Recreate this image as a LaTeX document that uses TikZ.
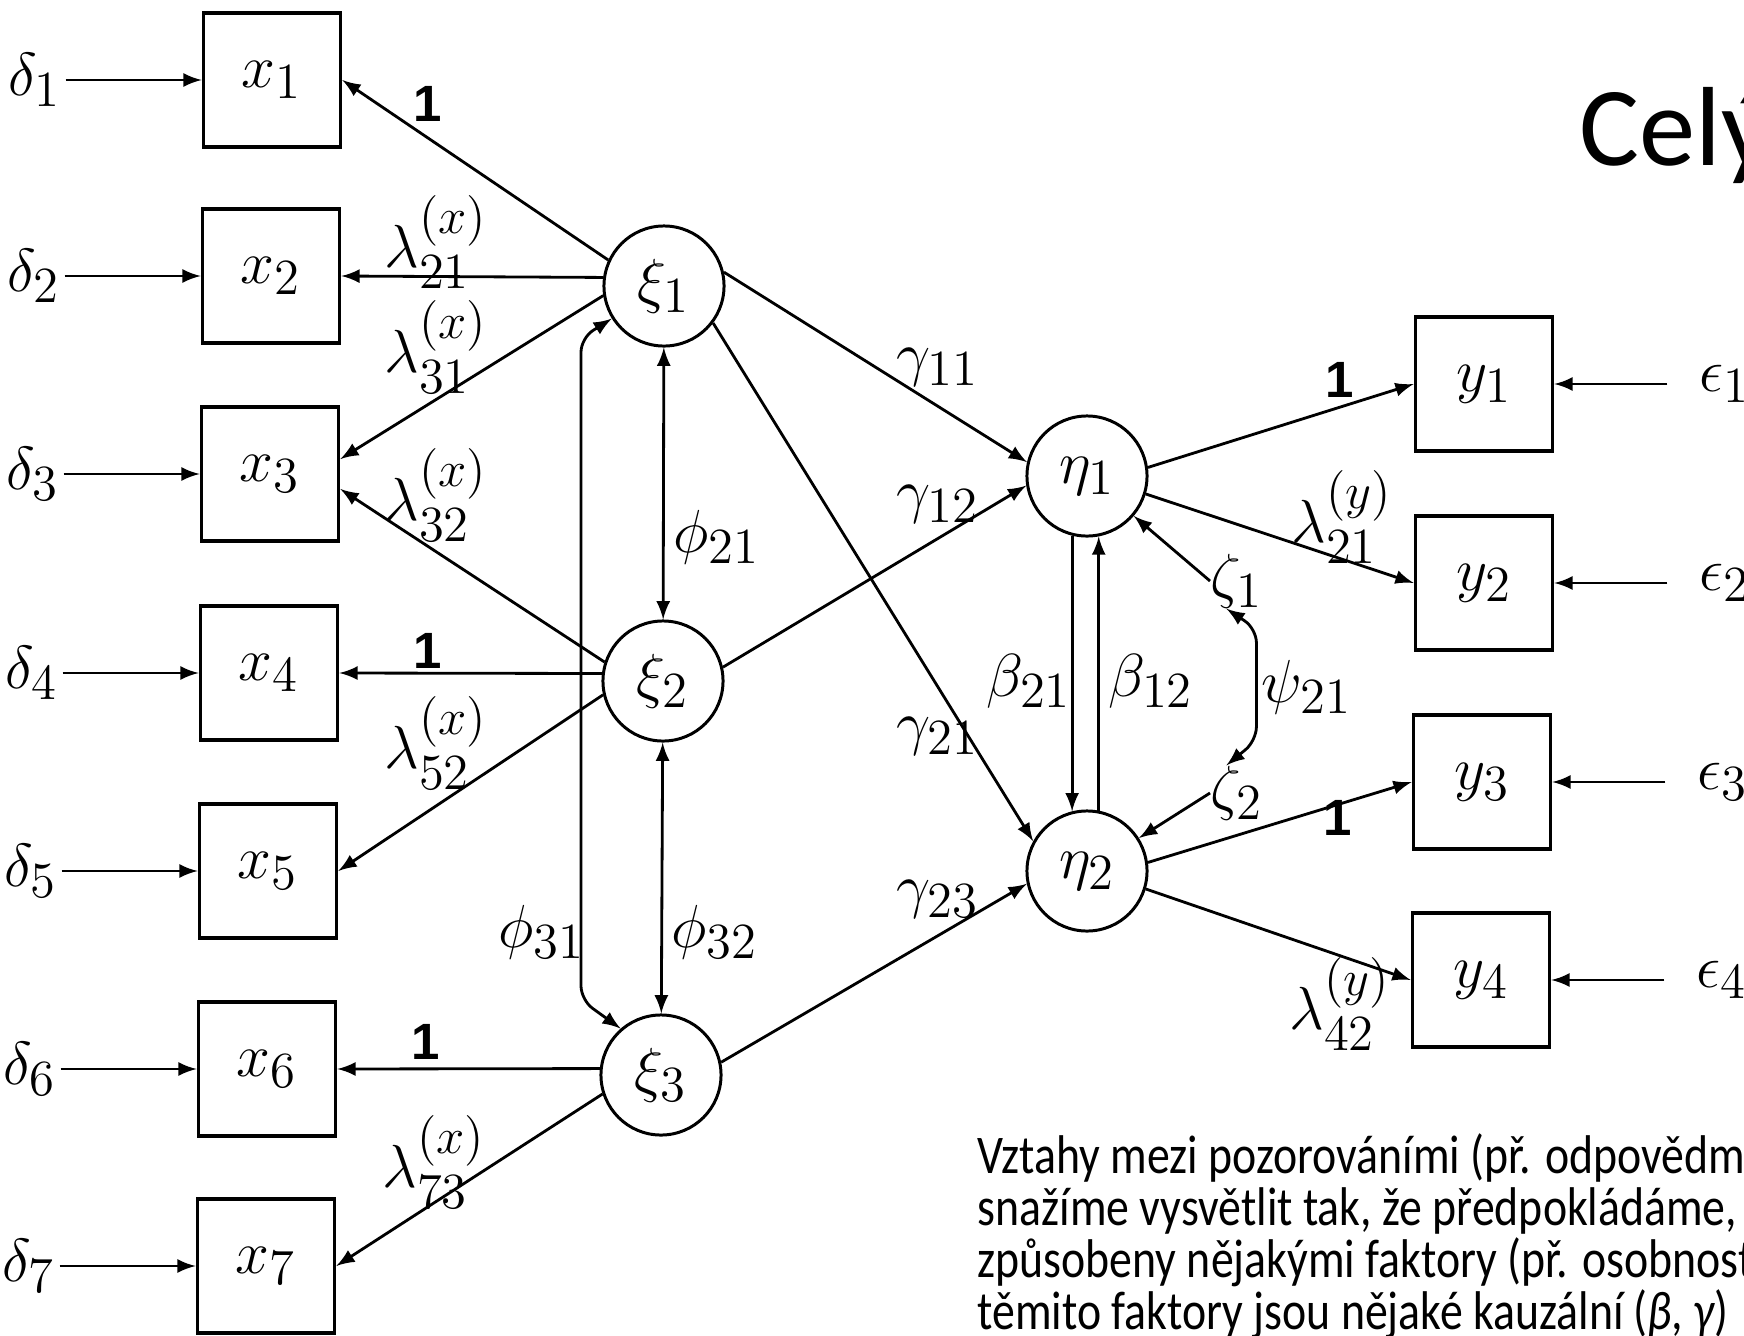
\documentclass[tikz,border=0pt]{standalone}
\usepackage{fontspec}
\usepackage{amsmath}
\usepackage{graphicx}
\usepackage{tikz}
\usetikzlibrary{arrows}
\usetikzlibrary{positioning}
\DeclareMathSizes{17.28}{17.28}{14}{10}
\newfontfamily\slidefont{Carlito}
\newfontfamily\onefont{Liberation Sans}
\newcommand{\slideline}[1]{\scalebox{0.84}[1]{#1}}
\tikzset{%
  myedge/.style={->, >=latex, line width=0.8pt},
  dbledge/.style={<->, >=latex, line width=0.8pt},
  obsbox/.style={rectangle, draw=black, line width=1pt, minimum width=1.37cm, minimum height=1.34cm, font=\LARGE},
  latent/.style={circle, draw=black, line width=0.85pt, minimum size=1.2cm, inner sep=0pt, font=\LARGE},
  errlbl/.style={inner sep=1pt, font=\LARGE},
  errlblr/.style={inner ysep=1pt, inner xsep=9pt, font=\LARGE},
  coef/.style={inner sep=0pt, font=\LARGE},
  unit/.style={inner sep=0pt, font=\onefont\bfseries\fontsize{14.5}{16}\selectfont},
  slidetext/.style={inner sep=0pt, anchor=base west, font=\slidefont\fontsize{15.5}{18}\selectfont}
}
\begin{document}
\begin{tikzpicture}[x=0.01cm, y=-0.01cm]
  \useasboundingbox (0,0) rectangle (1744,1336);
  \node[obsbox] (x1) at (272,80) {$x_1$};
  \node[obsbox] (x2) at (271,276) {$x_2$};
  \node[obsbox] (x3) at (270,474) {$x_3$};
  \node[obsbox] (x4) at (269,673) {$x_4$};
  \node[obsbox] (x5) at (268,871) {$x_5$};
  \node[obsbox] (x6) at (267,1069) {$x_6$};
  \node[obsbox] (x7) at (266,1266) {$x_7$};
  \node[errlbl, left=1.36cm of x1] (d1) {$\delta_1$};
  \node[errlbl, left=1.36cm of x2] (d2) {$\delta_2$};
  \node[errlbl, left=1.36cm of x3] (d3) {$\delta_3$};
  \node[errlbl, left=1.36cm of x4] (d4) {$\delta_4$};
  \node[errlbl, left=1.36cm of x5] (d5) {$\delta_5$};
  \node[errlbl, left=1.36cm of x6] (d6) {$\delta_6$};
  \node[errlbl, left=1.36cm of x7] (d7) {$\delta_7$};
  \node[latent] (xi1) at (664,286) {$\xi_1$};
  \node[latent] (xi2) at (663,681) {$\xi_2$};
  \node[latent] (xi3) at (661,1075) {$\xi_3$};
  \node[latent] (eta1) at (1087,476) {$\eta_1$};
  \node[latent] (eta2) at (1087,871) {$\eta_2$};
  \node[obsbox] (y1) at (1484,384) {$y_1$};
  \node[obsbox] (y2) at (1484,583) {$y_2$};
  \node[obsbox] (y3) at (1482,782) {$y_3$};
  \node[obsbox] (y4) at (1481,980) {$y_4$};
  \node[errlblr, right=1.13cm of y1] (e1) {$\epsilon_1$};
  \node[errlblr, right=1.13cm of y2] (e2) {$\epsilon_2$};
  \node[errlblr, right=1.13cm of y3] (e3) {$\epsilon_3$};
  \node[errlblr, right=1.13cm of y4] (e4) {$\epsilon_4$};
  \node[coef] (zeta1) at (1237,581) {$\zeta_1$};
  \node[coef] (zeta2) at (1237,793) {$\zeta_2$};
  \foreach \i in {1,...,7}
    \draw[myedge] (d\i) -- (x\i);
  \foreach \i in {1,...,4}
    \draw[myedge] (e\i) -- (y\i);
  \draw[myedge] (xi1.155) -- (x1.east);
  \draw[myedge] (xi1.172) -- (x2.east);
  \draw[myedge] (xi1.189) -- (x3.12);
  \draw[myedge] (xi2.162) -- (x3.-12);
  \draw[myedge] (xi2.173) -- (x4.east);
  \draw[myedge] (xi2.193) -- (x5.east);
  \draw[myedge] (xi3.174) -- (x6.east);
  \draw[myedge] (xi3.198) -- (x7.east);
  \draw[dbledge] (xi1) -- (xi2);
  \draw[dbledge] (xi2) -- (xi3);
  \draw[dbledge, rounded corners=4pt] (xi1.212) -- (581,338) -- (581,1000) -- (xi3.131);
  \draw[myedge] (xi1.13) -- (eta1.167);
  \draw[myedge] (xi2.13) -- (eta1.189);
  \draw[myedge] (xi1.-37) -- (eta2.151);
  \draw[myedge] (xi3.12) -- (eta2.192);
  \draw[myedge] (eta1.256) -- (eta2.104);
  \draw[myedge] (eta2.79) -- (eta1.281);
  \draw[myedge] (zeta1.west) -- (eta1);
  \draw[myedge] (zeta2.west) -- (eta2);
  \draw[dbledge, rounded corners=4pt] ([xshift=-3pt]zeta1.south) -- ++(30,20) -- ++(0,112) -- ([xshift=-3pt]zeta2.north);
  \draw[myedge] (eta1.8) -- (y1.west);
  \draw[myedge] (eta1.-17) -- (y2.west);
  \draw[myedge] (eta2.8) -- (y3.west);
  \draw[myedge] (eta2.-17) -- (y4.west);
  \node[unit] (l11) at (428,104) {1};
  \node[coef] (l21) at (436,242) {$\lambda^{(x)}_{21}$};
  \node[coef] (l31) at (436,347) {$\lambda^{(x)}_{31}$};
  \node[coef] (l32) at (436,495) {$\lambda^{(x)}_{32}$};
  \node[unit] (l42) at (428,651) {1};
  \node[coef] (l52) at (436,743) {$\lambda^{(x)}_{52}$};
  \node[unit] (l63) at (426,1042) {1};
  \node[coef] (l73) at (434,1162) {$\lambda^{(x)}_{73}$};
  \node[coef] (p21) at (717,537) {$\phi_{21}$};
  \node[coef] (p32) at (715,932) {$\phi_{32}$};
  \node[coef] (p31) at (542,932) {$\phi_{31}$};
  \node[coef] (g11) at (938,367) {$\gamma_{11}$};
  \node[coef] (g12) at (938,504) {$\gamma_{12}$};
  \node[coef] (g21) at (938,736) {$\gamma_{21}$};
  \node[coef] (g23) at (938,899) {$\gamma_{23}$};
  \node[coef] (b21) at (1029,681) {$\beta_{21}$};
  \node[coef] (b12) at (1151,681) {$\beta_{12}$};
  \node[coef] (psi) at (1307,687) {$\psi_{21}$};
  \node[unit] (m11) at (1340,380) {1};
  \node[coef] (m21) at (1342,517) {$\lambda^{(y)}_{21}$};
  \node[unit] (m32) at (1338,818) {1};
  \node[coef] (m42) at (1340,1004) {$\lambda^{(y)}_{42}$};
  \node[inner sep=0pt, anchor=base west, font=\slidefont\fontsize{32}{36}\selectfont] (title) at (1579,165) {Celý};
  \node[slidetext] (t1) at (977,1173) {\slideline{Vztahy mezi pozorováními (př. odpovědmi}};
  \node[slidetext] (t2) at (977,1225) {\slideline{snažíme vysvětlit tak, že předpokládáme,}};
  \node[slidetext] (t3) at (977,1277) {\slideline{způsobeny nějakými faktory (př. osobnost)}};
  \node[slidetext] (t4) at (977,1329) {\slideline{těmito faktory jsou nějaké kauzální ({\itshape β, γ})}};
\end{tikzpicture}
\end{document}
